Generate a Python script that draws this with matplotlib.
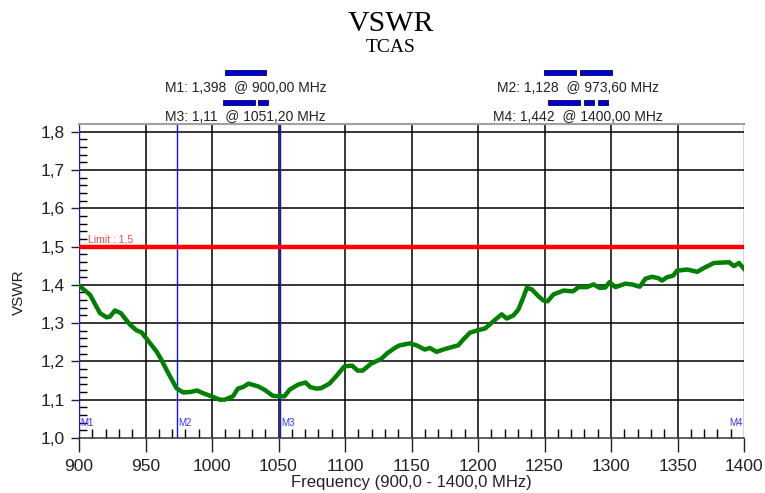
import matplotlib
matplotlib.use("Agg")
import matplotlib.pyplot as plt
from matplotlib.patches import Rectangle
import numpy as np

# ---- data ----
freq = [900.0, 908.3, 915.8, 920.8, 923.3, 927.0, 931.5, 938.3, 943.3, 947.0,
        951.3, 958.3, 962.0, 967.0, 973.3, 978.3, 983.3, 988.8, 993.3, 999.5,
        1005.8, 1009.5, 1015.8, 1019.5, 1023.3, 1027.5, 1034.5, 1039.5, 1045.8, 1050.8,
        1054.5, 1058.3, 1064.5, 1070.3, 1073.8, 1078.3, 1082.0, 1088.3, 1093.3, 1099.5,
        1105.3, 1109.5, 1113.3, 1119.5, 1127.0, 1132.0, 1138.3, 1141.2, 1148.7, 1153.8,
        1160.0, 1163.8, 1168.8, 1173.8, 1178.9, 1185.1, 1188.9, 1193.9, 1199.5, 1205.3,
        1211.6, 1217.8, 1221.6, 1226.6, 1230.4, 1233.7, 1236.7, 1240.5, 1245.5, 1249.2,
        1252.3, 1256.8, 1264.3, 1271.4, 1275.6, 1281.9, 1286.9, 1291.5, 1295.7, 1298.9,
        1303.3, 1310.8, 1315.8, 1321.6, 1325.9, 1330.9, 1335.9, 1338.4, 1342.2, 1346.7,
        1349.7, 1357.3, 1364.8, 1369.8, 1377.4, 1388.7, 1392.5, 1396.2, 1400.0]
vswr = [1.398, 1.374, 1.326, 1.315, 1.317, 1.333, 1.326, 1.296, 1.281, 1.276,
        1.257, 1.226, 1.204, 1.170, 1.130, 1.119, 1.120, 1.124, 1.117, 1.109,
        1.100, 1.100, 1.109, 1.129, 1.133, 1.142, 1.135, 1.126, 1.110, 1.109,
        1.109, 1.126, 1.139, 1.145, 1.133, 1.129, 1.130, 1.142, 1.161, 1.187,
        1.189, 1.176, 1.176, 1.194, 1.206, 1.222, 1.237, 1.242, 1.247, 1.242,
        1.231, 1.235, 1.225, 1.231, 1.236, 1.242, 1.257, 1.275, 1.281, 1.286,
        1.305, 1.323, 1.312, 1.320, 1.336, 1.364, 1.392, 1.388, 1.370, 1.359,
        1.357, 1.375, 1.385, 1.383, 1.394, 1.394, 1.401, 1.392, 1.393, 1.407,
        1.394, 1.403, 1.401, 1.395, 1.416, 1.421, 1.417, 1.411, 1.420, 1.424,
        1.437, 1.440, 1.434, 1.444, 1.457, 1.459, 1.449, 1.457, 1.442]

marker_names = ["M1", "M2", "M3", "M4"]
marker_freq = [900.0, 973.6, 1051.2, 1400.0]
marker_text = ["M1: 1,398  @ 900,00 MHz", "M2: 1,128  @ 973,60 MHz",
               "M3: 1,11  @ 1051,20 MHz", "M4: 1,442  @ 1400,00 MHz"]
limit_value = 1.5
limit_label = "Limit : 1,5"
x_ticks = [900, 950, 1000, 1050, 1100, 1150, 1200, 1250, 1300, 1350, 1400]
y_ticks = [1.0, 1.1, 1.2, 1.3, 1.4, 1.5, 1.6, 1.7, 1.8]
y_tick_labels = ["1,0", "1,1", "1,2", "1,3", "1,4", "1,5", "1,6", "1,7", "1,8"]

plt.rcParams['font.family'] = ['Liberation Sans', 'DejaVu Sans']

W, H = 765, 493
fig = plt.figure(figsize=(W / 100, H / 100), dpi=100)
ax = fig.add_axes([79 / W, 1 - 438 / H, (744 - 79) / W, (438 - 124) / H])

ax.set_xlim(900, 1400)
ax.set_ylim(1.0, 1.82)

# grid
for xv in x_ticks[1:-1]:
    ax.axvline(xv, color="black", lw=1.1, zorder=1)
for yv in y_ticks[1:]:
    ax.axhline(yv, color="black", lw=1.1, zorder=1)

# limit line
ax.axhline(limit_value, color="#ff0000", lw=3.2, zorder=3)
ax.text(906.5, limit_value + 0.006, limit_label, color="#ff4444", fontsize=7.5,
        ha="left", va="bottom", zorder=4)

# marker lines
for name, mf in zip(marker_names, marker_freq):
    ax.axvline(mf, color="#1010ff", lw=1.0, zorder=2)
    if mf >= 1400:
        ax.text(mf - 0.8, 1.04, name, color="#3333ff", fontsize=7,
                ha="right", va="center", zorder=4)
    else:
        ax.text(mf + 0.8, 1.04, name, color="#3333ff", fontsize=7,
                ha="left", va="center", zorder=4)

# data line
ax.plot(freq, vswr, color="#008000", lw=3.2, zorder=5, solid_joinstyle="round")

# spines
for s in ["left", "right"]:
    ax.spines[s].set_visible(False)
ax.spines["top"].set_color("#a0a0a0")
ax.spines["top"].set_linewidth(1.5)
ax.spines["bottom"].set_color("#333333")
ax.spines["bottom"].set_linewidth(1.1)

# ticks
ax.set_xticks(x_ticks)
ax.set_xticklabels([str(v) for v in x_ticks])
ax.set_xticks(np.arange(910, 1400, 10), minor=True)
ax.set_yticks(y_ticks)
ax.set_yticklabels(y_tick_labels)
ax.set_yticks(np.arange(1.02, 1.82, 0.02), minor=True)
ax.tick_params(axis="x", which="major", direction="out", length=10, width=1,
               labelsize=12.5, pad=5, colors="#222222")
ax.tick_params(axis="x", which="minor", direction="in", length=6.5, width=1,
               color="black")
ax.tick_params(axis="y", which="major", direction="out", length=5.5, width=1,
               labelsize=12.5, pad=5, colors="#222222")
ax.tick_params(axis="y", which="minor", direction="in", length=6, width=1,
               color="black")

ax.set_xlabel("Frequency (900,0 - 1400,0 MHz)", fontsize=12, color="#222222")
ax.xaxis.set_label_coords((411 - 79) / (744 - 79), -(483 - 438) / (438 - 124))
ax.xaxis.label.set_va("center")
ax.set_ylabel("VSWR", fontsize=11, color="#222222")
ax.yaxis.set_label_coords(-(79 - 19) / (744 - 79), (438 - 292) / (438 - 124))
ax.yaxis.label.set_va("center")

# titles
fig.text(391 / W, 1 - 24 / H, "VSWR", family=["Liberation Serif", "DejaVu Serif"],
         fontsize=21.5, ha="center", va="center")
fig.text(391 / W, 1 - 47.5 / H, "TCAS", family=["Liberation Serif", "DejaVu Serif"],
         fontsize=14, ha="center", va="center")

# marker legend texts
text_pos = [(245.5, 88), (578, 88), (245.5, 117), (578, 117)]
for t, (px, py) in zip(marker_text, text_pos):
    fig.text(px / W, 1 - py / H, t, fontsize=10, ha="center", va="center",
             color="#222222")

# legend bars (line-style swatches)
bars = [
    (225.3, 266.0, 69.5), (544.0, 575.7, 69.5), (580.0, 611.7, 69.5),
    (222.7, 255.0, 99.5), (258.3, 268.3, 99.5),
    (548.0, 580.0, 99.5), (583.7, 594.0, 99.5), (597.7, 608.0, 99.5),
]
for x0, x1, y0 in bars:
    fig.patches.append(Rectangle((x0 / W, 1 - (y0 + 5) / H), (x1 - x0) / W, 5 / H,
                                 transform=fig.transFigure, facecolor="#0000cc",
                                 edgecolor="#000066", lw=0.6))

fig.savefig("out.png", dpi=100)
